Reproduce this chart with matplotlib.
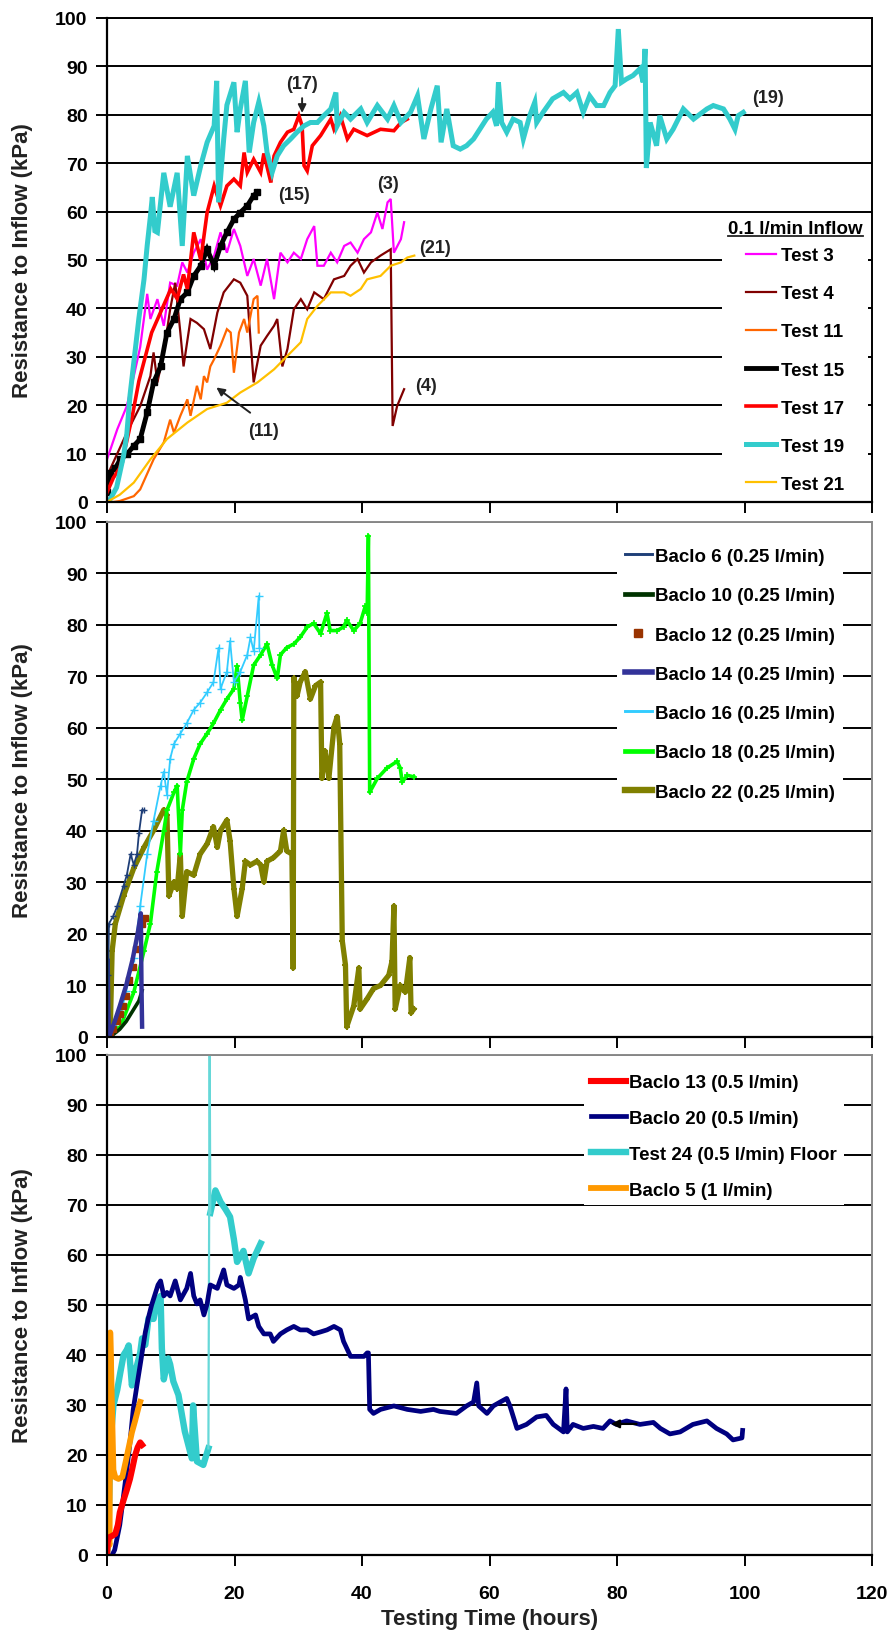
import matplotlib
matplotlib.use('Agg')
import matplotlib.pyplot as plt
from matplotlib.lines import Line2D

plt.rcParams['font.family'] = ['Liberation Sans', 'DejaVu Sans']
plt.rcParams['font.weight'] = 'bold'

XTICKS = [0, 20, 40, 60, 80, 100, 120]
YTICKS = [0, 10, 20, 30, 40, 50, 60, 70, 80, 90, 100]

# ---------------- Panel 1 : 0.1 l/min inflow ----------------
test3 = [(0, 8.8), (1.6, 15), (3.1, 19.8), (4.2, 26), (5.2, 32), (6.3, 43), (6.8, 37.8), (7.9, 41.9),
         (8.9, 36.4), (9.9, 45.3), (11.0, 44.7), (11.8, 49.5), (12.6, 47.4), (13.6, 51.5), (14.7, 54.3),
         (15.7, 48), (16.8, 50.9), (17.8, 55.7), (18.8, 51.5), (19.9, 56.4), (20.9, 52.9), (22.0, 46.7),
         (23.0, 50.2), (24.1, 44.7), (25.1, 50.2), (26.2, 41.9), (27.2, 51.5), (28.3, 49.5), (29.3, 51.5),
         (30.4, 50.2), (31.4, 54.3), (32.5, 57), (33.0, 48.8), (34.0, 48.8), (35.1, 51.5), (36.1, 49.5),
         (37.2, 52.9), (38.2, 53.6), (39.3, 51.5), (40.3, 54.3), (41.4, 55.7), (42.4, 59.8), (43.2, 56.4),
         (44.0, 61.9), (44.5, 62.6), (45.0, 51.5), (46.1, 54.3), (46.6, 57.8)]
test4 = [(0, 5), (0.5, 6.8), (3.1, 14.3), (5.2, 19.8), (6.8, 26), (7.3, 30.9), (7.9, 24.7), (8.9, 30.9),
         (9.9, 39.8), (10.7, 45.3), (11.5, 35), (12.0, 28), (13.1, 37.8), (14.1, 37), (15.2, 35.7),
         (16.2, 31.6), (17.3, 39.1), (18.3, 43.3), (19.9, 46), (20.9, 45.3), (22.0, 42.6), (23.0, 24.7),
         (24.1, 32.3), (25.1, 34.3), (26.2, 36.4), (26.7, 37.8), (27.5, 28), (28.3, 31.6), (29.3, 39.8),
         (30.4, 41.9), (31.4, 39.8), (32.5, 43.3), (34.0, 41.9), (35.6, 46), (37.2, 46.7), (38.2, 48.8),
         (39.3, 50.2), (40.3, 47.4), (41.4, 49.5), (42.9, 50.9), (44.5, 52.2), (44.8, 15.7), (45.5, 19.8),
         (46.6, 23.3)]
test11 = [(0, 0), (1.0, 0), (2.0, 0.2), (4.2, 1.2), (5.2, 2.6), (7.3, 8.8), (8.9, 12.3), (9.9, 17),
          (10.5, 14.3), (11.5, 17.8), (12.6, 21.2), (13.1, 17.8), (14.1, 24), (14.7, 21.2), (15.2, 26),
          (15.7, 24.7), (16.2, 28), (16.8, 29.5), (17.8, 32.3), (18.8, 35.7), (19.4, 35), (19.9, 26.7),
          (20.7, 35), (21.5, 37.8), (22.0, 35), (23.0, 41.9), (23.6, 42.6), (23.8, 35)]
test15 = [(0, 2), (0.5, 6), (1.3, 7), (2.1, 8.8), (3.2, 10), (4.2, 11.6), (5.2, 13), (6.3, 18.5),
          (7.3, 24.7), (8.4, 28), (9.4, 35), (10.5, 37.8), (11.5, 41.9), (12.6, 43.3), (13.6, 46.7),
          (14.7, 48.8), (15.7, 52.2), (16.8, 48.8), (17.8, 52.9), (18.8, 55.7), (19.9, 58.4), (20.9, 59.8),
          (22.0, 61.2), (23.0, 63.3), (23.6, 64)]
test17 = [(0, 2), (1, 5), (2, 7), (3, 12), (4, 18), (5, 25), (6, 30), (7, 35), (8, 38), (9, 41), (10, 44),
          (11, 42), (12, 47), (12.6, 44), (13.6, 55.7), (14.7, 50), (15.7, 59.8), (16.8, 65.3), (17.8, 61.2),
          (18.8, 65.3), (19.9, 66.7), (20.9, 65.3), (21.5, 72.2), (22.0, 68.1), (23.0, 70.8), (24.1, 68.1),
          (24.6, 72), (25.7, 66), (26.2, 71.5), (27.2, 74.3), (28.3, 76.4), (29.3, 77), (30.1, 79.8),
          (30.6, 77.7), (30.9, 69.5), (31.4, 68.4), (32.2, 73.6), (33.5, 75.7), (35.1, 79.1), (35.6, 77),
          (36.6, 79.8), (37.7, 75), (38.7, 77), (40.8, 75.7), (42.9, 77), (45.0, 76.7), (46.1, 78.4),
          (47.1, 79.1)]
test19 = [(0, 0), (0.5, 0.6), (1.5, 3), (2.6, 9.6), (3.1, 14), (3.6, 22), (4.3, 30), (5.0, 38), (5.8, 46),
          (6.3, 53), (6.8, 59), (7.1, 63), (7.5, 56), (7.9, 55.7), (8.9, 68), (9.9, 61), (11.0, 68),
          (11.8, 52.9), (12.6, 71.5), (13.6, 63.3), (14.7, 69.5), (15.7, 74.3), (16.8, 77.7), (17.2, 87),
          (17.5, 61.9), (18.3, 75), (18.8, 82), (19.9, 86.7), (20.4, 76.4), (20.9, 81.2), (21.7, 87),
          (22.3, 72.2), (23.0, 78.4), (23.8, 82.6), (24.6, 77.7), (25.1, 72.2), (25.9, 68.1), (26.7, 71.5),
          (27.7, 73.6), (28.8, 75), (29.8, 76.4), (30.9, 77.7), (31.9, 78.4), (33.0, 78.4), (34.0, 79.8),
          (35.1, 81.2), (35.9, 84.6), (36.1, 77.7), (37.2, 80.5), (38.2, 79.1), (39.8, 81.2), (40.8, 78.4),
          (42.4, 81.9), (44.0, 79.1), (45.0, 81.9), (46.1, 78.4), (47.6, 80.5), (48.7, 83.9), (49.7, 75),
          (50.8, 81.2), (51.8, 86), (52.4, 74.3), (53.3, 81.2), (54.3, 73.6), (55.4, 72.9), (56.4, 73.6),
          (57.5, 75), (59.5, 79.1), (60.5, 80.5), (61.1, 77.7), (61.4, 86.7), (61.9, 78.4), (62.7, 76.4),
          (63.7, 79.1), (64.8, 78.4), (65.3, 75), (66.3, 79.8), (67.1, 82.6), (67.4, 78.4), (68.4, 80.5),
          (69.9, 83.3), (71.6, 84.6), (72.6, 83.3), (73.7, 84.6), (74.7, 80.5), (75.7, 83.9), (76.8, 81.9),
          (77.9, 81.9), (78.9, 84.6), (79.7, 86), (80.2, 97.7), (80.7, 86.7), (81.5, 87.4), (82.5, 88.1),
          (83.6, 89.5), (84.1, 86.7), (84.4, 93.6), (84.6, 69), (85.2, 78.4), (86.2, 73.6), (86.7, 79.8),
          (87.8, 75), (88.8, 77), (90.4, 81.2), (92.0, 79.1), (94.1, 81.2), (95.1, 81.9), (96.7, 81.2),
          (97.7, 79.1), (98.5, 77), (99.0, 79.8), (99.8, 80.5)]
test21 = [(0, 0), (2, 1.5), (4.2, 4), (6.8, 8.8), (9.4, 13), (12.6, 16.4), (15.7, 19.2), (18.8, 20.5),
          (20.9, 22.6), (23.6, 24.7), (26.2, 27.4), (28.3, 30.2), (30.4, 33), (31.4, 37.8), (33.0, 40.5),
          (35.1, 43.3), (37.2, 43.3), (38.2, 42.6), (39.8, 44), (40.8, 46), (42.9, 46.7), (44.5, 48.8),
          (46.1, 49.5), (47.1, 50.5), (48.2, 50.9)]

labels1 = ['Test 3', 'Test 4', 'Test 11', 'Test 15', 'Test 17', 'Test 19', 'Test 21']
legend_title1 = '0.1 l/min Inflow'
notes1 = [('(17)', 30.6, 86.4), ('(15)', 29.3, 63.6), ('(3)', 44.0, 65.7), ('(21)', 51.5, 52.6),
          ('(4)', 50.0, 24.0), ('(11)', 24.6, 14.7), ('(19)', 103.7, 83.6)]
arrows1 = [((30.6, 84.0), (30.6, 79.8)), ((22.8, 18.1), (16.8, 24.0))]

# ---------------- Panel 2 : 0.25 l/min ----------------
baclo6 = [(0, 0), (0.2, 12), (0.3, 22), (1.0, 23.5), (1.6, 25.4), (2.6, 29.4), (3.1, 31.4), (3.7, 35.5),
          (4.2, 33.4), (4.7, 35.5), (5.0, 39.5), (5.5, 44.1), (5.8, 44)]
baclo10 = [(0, 0), (1, 0.5), (2, 1.5), (3, 3), (4, 5), (4.5, 6), (5, 7), (5.5, 9)]
baclo12 = [(0, 0), (0.5, 1), (1.0, 1.5), (1.5, 3), (2.0, 4.5), (2.5, 6), (3.0, 8), (3.5, 11), (4.0, 13.5),
           (4.5, 17), (5.0, 20), (5.5, 22), (6.0, 23)]
baclo14 = [(0, 0), (0.1, 15), (0.2, 5), (0.3, 0), (0.6, 1), (1.2, 3), (2, 6), (3, 10), (4, 15), (4.8, 20),
           (5.3, 24), (5.4, 10), (5.5, 2)]
baclo16 = [(0, 0), (1, 1), (2.1, 4), (3.0, 9), (4.2, 15.4), (5.2, 25.4), (6.3, 35.5), (7.3, 42), (8.4, 48.8),
           (8.9, 51.5), (9.4, 47), (9.9, 54), (10.5, 56.9), (11.5, 58.9), (12.5, 60.9), (13.6, 63.5),
           (14.6, 64.9), (15.7, 66.9), (16.7, 68.9), (17.5, 75.6), (17.8, 67.6), (18.8, 70.9), (19.3, 76.9),
           (19.9, 68.9), (20.9, 70.9), (22.0, 74.2), (22.5, 77.6), (23.0, 74.9), (23.8, 85.6), (23.9, 75.6)]
baclo18 = [(0, 0), (0.8, 0.5), (2.1, 2), (4.2, 8.7), (5.8, 16.7), (6.8, 22), (7.8, 32), (8.9, 40), (9.4, 44),
           (10.5, 47.5), (11.0, 48.8), (11.5, 35.5), (11.8, 44), (12.5, 49.5), (13.6, 54), (14.6, 56.9),
           (15.7, 58.9), (16.7, 60.9), (17.8, 63.5), (18.8, 65.6), (19.9, 67.6), (20.4, 72), (20.9, 64.9),
           (21.2, 61.5), (22.0, 66.2), (23.0, 72.2), (24.1, 74.2), (25.1, 76.3), (25.9, 72.2), (26.7, 69.6),
           (27.2, 74.2), (28.2, 75.6), (29.3, 76.3), (30.3, 77.6), (31.4, 79.6), (32.4, 80.3), (33.5, 78.3),
           (34.5, 82.3), (35.0, 78.9), (36.1, 78.9), (37.1, 79.6), (37.6, 80.9), (38.7, 78.9), (39.7, 80.3),
           (40.5, 83.6), (40.8, 82.3), (41.0, 97.3), (41.2, 47.5), (42.4, 50.2), (43.9, 52.2), (45.5, 53.5),
           (46.0, 52.2), (46.3, 49.5), (47.1, 50.8), (48.1, 50.5)]
baclo22 = [(0, 0), (0.5, 1), (0.8, 16.7), (1.3, 22), (2.6, 27.4), (4.2, 32.8), (5.8, 36.8), (7.3, 40.1),
           (8.9, 44.1), (9.4, 43), (9.7, 27.4), (10.5, 30.1), (11.0, 28.8), (11.5, 35.5), (11.8, 23.4),
           (12.5, 32.1), (13.6, 31.4), (14.6, 35.5), (15.7, 37.5), (16.7, 40.8), (17.3, 36.8), (17.8, 40.1),
           (18.8, 42.1), (19.3, 38.1), (19.9, 28.8), (20.4, 23.4), (21.2, 28.8), (21.7, 34.1), (22.5, 33.4),
           (23.5, 34.1), (24.1, 33.4), (24.6, 30.1), (25.1, 34.1), (26.1, 34.8), (27.2, 36.1), (27.7, 40.1),
           (28.2, 36.1), (29.0, 35.5), (29.2, 13.4), (29.3, 69.6), (29.8, 66.2), (30.3, 68.9), (31.1, 70.9),
           (31.9, 65.6), (32.7, 68.2), (33.5, 68.9), (33.7, 50.2), (34.2, 55.5), (34.8, 50.2), (35.6, 60.2),
           (36.1, 62.2), (36.5, 56.9), (36.9, 18.7), (37.4, 14), (37.6, 2), (38.7, 6), (39.5, 13.4),
           (39.7, 5.4), (40.8, 7.4), (41.8, 9.4), (42.9, 10), (44.2, 12), (44.7, 14.7), (45.0, 25.4),
           (45.2, 5.4), (46.0, 10), (46.8, 8.7), (47.5, 15.4), (47.7, 4.7), (48.1, 5.4)]
labels2 = ['Baclo 6 (0.25 l/min)', 'Baclo 10 (0.25 l/min)', 'Baclo 12 (0.25 l/min)',
           'Baclo 14 (0.25 l/min)', 'Baclo 16 (0.25 l/min)', 'Baclo 18 (0.25 l/min)',
           'Baclo 22 (0.25 l/min)']

# ---------------- Panel 3 : 0.5 and 1 l/min ----------------
baclo13 = [(0, 0), (0.1, 2.5), (0.3, 3.5), (0.8, 3.8), (1.3, 4.2), (1.7, 6), (2.0, 8.5), (2.6, 11),
           (3.1, 13), (3.6, 15.2), (4.0, 17.5), (4.4, 19.9), (4.8, 21.5), (5.2, 22.5), (5.5, 22)]
baclo20 = [(0.8, 0), (1.2, 1), (2.0, 6), (2.6, 12), (3.1, 17), (3.6, 22.5), (4.1, 29), (4.7, 34), (5.2, 38),
           (6.0, 44.5), (6.5, 47.5), (7.0, 50), (7.5, 52), (8.0, 54), (8.4, 54.8), (8.9, 51.8), (9.4, 52.5),
           (9.9, 51.8), (10.7, 54.8), (11.5, 51), (12.5, 53.3), (13.1, 56.3), (13.6, 51.8), (14.1, 50.2),
           (14.6, 51), (15.2, 48), (15.7, 50.2), (15.9, 51.8), (16.2, 54), (17.3, 53.3), (18.3, 57),
           (18.8, 54), (19.9, 53.3), (20.7, 54), (20.9, 55.5), (21.7, 51), (22.2, 47.2), (23.3, 48),
           (23.8, 45.7), (24.6, 44.2), (25.6, 44.2), (26.1, 42.7), (27.2, 44.2), (28.2, 45), (29.3, 45.7),
           (30.3, 45), (31.4, 45), (32.4, 44.2), (33.5, 44.6), (34.5, 45), (35.6, 45.7), (36.6, 45),
           (37.1, 42.7), (38.2, 39.7), (39.2, 39.7), (40.3, 39.7), (40.8, 40.4), (41.0, 40.4), (41.2, 29.1),
           (41.8, 28.3), (42.9, 29.1), (45.0, 29.8), (47.1, 29.1), (49.2, 28.7), (51.2, 29.1), (52.2, 28.7),
           (54.8, 28.3), (56.4, 29.8), (57.5, 30.6), (58.0, 34.4), (58.3, 29.8), (59.6, 28.3), (60.6, 29.8),
           (61.7, 30.6), (62.7, 31.3), (63.2, 29.8), (64.3, 25.3), (65.8, 26.1), (67.4, 27.6), (68.9, 27.9),
           (70.0, 26.1), (71.6, 24.6), (72.0, 33.2), (72.2, 24.6), (73.1, 26.1), (74.7, 25.3), (76.3, 25.7),
           (77.8, 25.3), (78.9, 26.8), (79.9, 26.1), (81.5, 26.8), (83.6, 26.1), (85.7, 26.5), (86.8, 25.3),
           (88.3, 24.2), (89.9, 24.6), (91.9, 26.1), (94.1, 26.8), (95.6, 25.3), (97.2, 24.2), (98.2, 23),
           (99.6, 23.4), (99.7, 24.9)]
test24 = [(0, 0), (0.2, 4), (0.4, 15), (0.7, 25), (1.0, 29.9), (1.6, 33), (2.1, 36.6), (2.6, 40), (3.1, 41),
          (3.4, 41.9), (3.9, 33.9), (4.2, 36), (4.7, 37.9), (5.2, 40.4), (5.5, 43.3), (6.0, 42), (6.5, 47.3),
          (7.3, 47.2), (7.8, 50.6), (8.4, 51.8), (8.6, 41.3), (8.9, 35.1), (9.6, 39.3), (9.9, 38.1),
          (10.4, 34.7), (11.2, 32), (12.2, 24.7), (13.3, 19.3), (13.5, 29.9), (14.1, 18.7), (15.1, 18),
          (15.9, 21.3), (16.1, 100), (16.2, 68.4), (17.0, 72.9), (17.8, 70.6), (18.6, 69.1), (19.3, 67.6),
          (19.9, 63.1), (20.4, 58.6), (21.4, 60.8), (22.2, 56.3), (23.0, 59.3), (24.1, 62.3)]
baclo5 = [(0, 0), (0.2, 3), (0.4, 2), (0.5, 44.5), (0.6, 40), (0.8, 28), (1.0, 17), (1.3, 15.5), (1.8, 15.2),
          (2.4, 15.6), (2.9, 18.5), (3.4, 21.5), (3.9, 24.5), (4.4, 26.8), (5.0, 29.8), (5.2, 30.6)]
labels3 = ['Baclo 13 (0.5 l/min)', 'Baclo 20 (0.5 l/min)', 'Test 24 (0.5 l/min) Floor', 'Baclo 5 (1 l/min)']
arrows3 = [((83.5, 26.2), (78.6, 26.2))]


def xs(p):
    return [a for a, b in p]


def ys(p):
    return [b for a, b in p]


fig = plt.figure(figsize=(8.92, 16.33), dpi=100)
L, W = 0.120, 0.8576
ax1 = fig.add_axes([L, 0.6920, W, 0.2964])
ax2 = fig.add_axes([L, 0.3644, W, 0.3154])
ax3 = fig.add_axes([L, 0.0472, W, 0.3062])


def style(ax, frame_color, show_xlabels):
    ax.set_xlim(0, 120)
    ax.set_ylim(0, 100)
    ax.set_xticks(XTICKS)
    ax.set_yticks(YTICKS)
    ax.set_axisbelow(True)
    ax.yaxis.grid(True, color='black', lw=1.4)
    ax.xaxis.grid(False)
    ax.tick_params(axis='both', direction='out', length=8, width=1.4, colors='black', labelsize=14)
    ax.tick_params(axis='y', pad=6)
    ax.tick_params(axis='x', pad=14, labelbottom=show_xlabels)
    for s in ('left', 'bottom'):
        ax.spines[s].set_color('black')
        ax.spines[s].set_linewidth(1.6)
    for s in ('top', 'right'):
        ax.spines[s].set_color(frame_color)
        ax.spines[s].set_linewidth(1.4)
    for t in ax.get_xticklabels() + ax.get_yticklabels():
        t.set_fontweight('bold')
    ax.set_ylabel('Resistance to Inflow (kPa)', fontsize=16, fontweight='bold', va='center',
                  color='#222222')
    ax.yaxis.set_label_coords(-0.111, 0.5)


for ax, fc, sx in ((ax1, 'black', False), (ax2, '#8a8a8a', False), (ax3, '#8a8a8a', True)):
    style(ax, fc, sx)

# ---- panel 1 lines
series1 = [test3, test4, test11, test15, test17, test19, test21]
styles1 = [dict(color='#FF00FF', lw=1.6),
           dict(color='#800000', lw=1.6),
           dict(color='#FF6600', lw=1.6),
           dict(color='black', lw=3.5, marker='s', ms=4),
           dict(color='#FF0000', lw=2.6),
           dict(color='#33CCCC', lw=3.6),
           dict(color='#FFC000', lw=1.6)]
for s, st, lab in zip(series1, styles1, labels1):
    ax1.plot(xs(s), ys(s), label=lab, solid_joinstyle='miter', **st)
for txt, x, y in notes1:
    ax1.text(x, y, txt, ha='center', va='center', fontsize=13, fontweight='bold', color='#222222')
for (x0, y0), (x1_, y1_) in arrows1:
    ax1.annotate('', xy=(x1_, y1_), xytext=(x0, y0),
                 arrowprops=dict(arrowstyle='-|>', color='#222222', lw=1.4, mutation_scale=12))

leg_handles1 = [Line2D([], [], color=st['color'], lw=st['lw']) for st in styles1]
leg1 = ax1.legend(leg_handles1, labels1, title=legend_title1, loc='upper right',
                  bbox_to_anchor=(0.995, 0.595), borderaxespad=0, borderpad=0.3,
                  frameon=True, facecolor='white', edgecolor='none', framealpha=1, fancybox=False,
                  fontsize=13.5, title_fontsize=13.5, labelspacing=1.12, handlelength=1.6,
                  handletextpad=0.25)
leg1._legend_box.sep = 7.5  # tighter gap between title and first entry
leg1.get_title().set_fontweight('bold')
for t in leg1.get_texts():
    t.set_fontweight('bold')

# ---- panel 2 lines
series2 = [baclo6, baclo10, baclo12, baclo14, baclo16, baclo18, baclo22]
styles2 = [dict(color='#1F3F78', lw=1.3, marker='+', ms=5, mew=1),
           dict(color='#003300', lw=2.6),
           dict(color='#993300', lw=0, ls='none', marker='s', ms=4),
           dict(color='#333399', lw=3.2),
           dict(color='#33CCFF', lw=1.3, marker='+', ms=6, mew=1),
           dict(color='#00FF00', lw=2.6, marker='+', ms=4, mew=1.2),
           dict(color='#808000', lw=3.8, marker='+', ms=4, mew=1.5)]
draw_order2 = [6, 5, 4, 1, 2, 3, 0]
for i in draw_order2:
    ax2.plot(xs(series2[i]), ys(series2[i]), **styles2[i])
leg_handles2 = []
for st in styles2:
    if st.get('ls') == 'none':
        leg_handles2.append(Line2D([], [], color=st['color'], ls='none', marker='s', ms=6))
    else:
        leg_handles2.append(Line2D([], [], color=st['color'], lw=max(st['lw'], 1.3) + 0.8))
leg2 = ax2.legend(leg_handles2, labels2, loc='upper right', bbox_to_anchor=(0.962, 0.964),
                  borderaxespad=0, borderpad=0.4, frameon=True, facecolor='white', edgecolor='none',
                  framealpha=1, fancybox=False, fontsize=13.5, labelspacing=1.18, handlelength=1.45,
                  handletextpad=0.2)
for t in leg2.get_texts():
    t.set_fontweight('bold')

# ---- panel 3 lines
styles3 = [dict(color='#FF0000', lw=4.4),
           dict(color='#000080', lw=3.4),
           dict(color='#33CCCC', lw=4.6),
           dict(color='#FF9900', lw=4.2)]
# Test 24 : thick trace with a single thin spike
spike = ys(test24).index(max(ys(test24)))
ax3.plot(xs(test24)[:spike], ys(test24)[:spike], **styles3[2])
ax3.plot(xs(test24)[spike + 1:], ys(test24)[spike + 1:], **styles3[2])
ax3.plot(xs(test24)[spike - 1:spike + 2], ys(test24)[spike - 1:spike + 2], color='#66D8D8', lw=1.6)
ax3.plot(xs(baclo20), ys(baclo20), **styles3[1])
ax3.plot(xs(baclo5), ys(baclo5), **styles3[3])
ax3.plot(xs(baclo13), ys(baclo13), **styles3[0])
for (x0, y0), (x1_, y1_) in arrows3:
    ax3.annotate('', xy=(x1_, y1_), xytext=(x0, y0),
                 arrowprops=dict(arrowstyle='-|>', color='black', lw=1.6, mutation_scale=12))
leg_handles3 = [Line2D([], [], color=st['color'], lw=st['lw']) for st in styles3]
leg3 = ax3.legend(leg_handles3, labels3, loc='upper right', bbox_to_anchor=(0.963, 0.975),
                  borderaxespad=0, borderpad=0.35, frameon=True, facecolor='white', edgecolor='none',
                  framealpha=1, fancybox=False, fontsize=13.5, labelspacing=1.0, handlelength=1.85,
                  handletextpad=0.2)
for t in leg3.get_texts():
    t.set_fontweight('bold')

ax3.set_xlabel('Testing Time (hours)', fontsize=16, fontweight='bold', va='center', color='#222222')
ax3.xaxis.set_label_coords(0.5, -0.128)

# underline the legend title of panel 1
fig.canvas.draw()
bb = leg1.get_title().get_window_extent().transformed(fig.transFigure.inverted())
fig.add_artist(Line2D([bb.x0, bb.x1], [bb.y0 + 0.0004, bb.y0 + 0.0004], color='#222222', lw=1.3,
                      transform=fig.transFigure))

fig.savefig('out.png', dpi=100)
